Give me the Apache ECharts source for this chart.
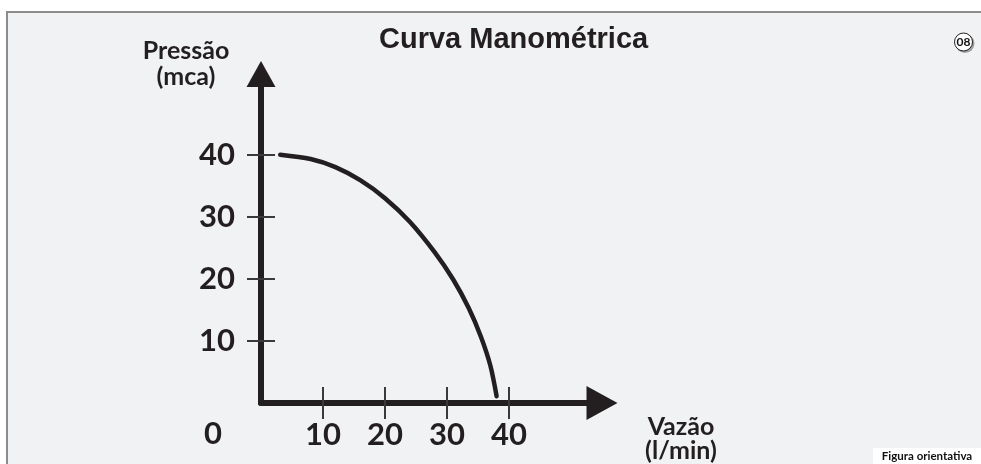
<!DOCTYPE html>
<html lang="pt">
<head>
    <meta charset="UTF-8">
    <title>Curva Manométrica</title>
    <script src="https://cdn.jsdelivr.net/npm/echarts@6/dist/echarts.min.js"></script>
    <style>
        html, body { margin: 0; padding: 0; background: #fff; }
        #curva { width: 981px; height: 464px; }
    </style>
</head>
<body>
<div id="curva"></div>
<script type="text/javascript">
    // valores (vazão em l/min, pressão em mca)
    var vazao = [3.1, 8.0, 12.0, 16.0, 20.0, 24.0, 28.0, 31.0, 33.5, 35.5, 37.0, 38.0];
    var pressao = [40, 39.3, 38.0, 35.9, 33.0, 29.2, 24.3, 19.9, 15.3, 10.6, 6.0, 1.1];
    var vazaoTicks = [10, 20, 30, 40];
    var pressaoTicks = [10, 20, 30, 40];

    var tinta = '#231f20';
    var numFont = {fontFamily: 'Lato', fontWeight: 'bold', fontSize: 31, color: tinta};

    var curvaData = [];
    for (var i = 0; i < vazao.length; i++) {
        curvaData.push([vazao[i], pressao[i]]);
    }

    var chart = echarts.init(document.getElementById('curva'));

    // eixo base + eixo "fantasma" so para o risco do tick cruzar a linha
    function eixoX(principal) {
        return {
            type: 'value', position: 'bottom', min: 0, max: 55,
            axisLine: principal ? {
                onZero: false, symbol: ['none', 'triangle'], symbolSize: [34, 31],
                lineStyle: {color: tinta, width: 6}
            } : {show: false},
            axisTick: {show: true, inside: !principal, length: 16, customValues: vazaoTicks,
                lineStyle: {color: '#3a3a3a', width: 2}},
            axisLabel: principal ? Object.assign({show: true, margin: 16, customValues: vazaoTicks}, numFont) : {show: false},
            splitLine: {show: false}
        };
    }
    function eixoY(principal) {
        return {
            type: 'value', position: 'left', min: 0, max: 53,
            axisLine: principal ? {
                onZero: false, symbol: ['none', 'triangle'], symbolSize: [29, 26],
                lineStyle: {color: tinta, width: 6}
            } : {show: false},
            axisTick: {show: true, inside: !principal, length: 14, customValues: pressaoTicks,
                lineStyle: {color: '#3a3a3a', width: 2}},
            axisLabel: principal ? Object.assign({show: true, margin: 26, customValues: pressaoTicks}, numFont) : {show: false},
            splitLine: {show: false}
        };
    }

    var option = {
        backgroundColor: '#f1f2f4',
        animation: false,
        title: {
            text: 'Curva Manométrica',
            left: 374, top: 20,
            textStyle: {fontFamily: 'Liberation Sans', fontWeight: 'bold', fontSize: 29, color: tinta}
        },
        grid: {left: 261, width: 341, top: 74, height: 329},
        xAxis: [eixoX(true), eixoX(false)],
        yAxis: [eixoY(true), eixoY(false)],
        series: [{
            type: 'line',
            data: curvaData,
            smooth: 0.3,
            showSymbol: false,
            lineStyle: {color: tinta, width: 4.5, cap: 'round'}
        }],
        graphic: [
            // faixa branca e moldura cinza
            {type: 'rect', shape: {x: 0, y: 0, width: 981, height: 11}, style: {fill: '#fff'}},
            {type: 'rect', shape: {x: 0, y: 0, width: 6, height: 464}, style: {fill: '#fff'}},
            {type: 'line', shape: {x1: 6, y1: 12, x2: 981, y2: 12}, style: {stroke: '#8c8c8c', lineWidth: 2}},
            {type: 'line', shape: {x1: 7, y1: 11, x2: 7, y2: 464}, style: {stroke: '#8c8c8c', lineWidth: 2}},
            {type: 'text', x: 186, y: 64, style: {text: 'Pressão\n(mca)', align: 'center', verticalAlign: 'middle',
                font: 'bold 25px Lato', lineHeight: 26, fill: tinta}},
            {type: 'text', x: 681, y: 439, style: {text: 'Vazão\n(l/min)', align: 'center', verticalAlign: 'middle',
                font: 'bold 25px Lato', lineHeight: 24, fill: tinta}},
            {type: 'text', x: 213, y: 434, style: {text: '0', align: 'center', verticalAlign: 'middle',
                font: 'bold 31px Lato', fill: tinta}},
            // selo "08"
            {type: 'circle', shape: {cx: 965, cy: 43.5, r: 9.5}, style: {fill: '#a0a0a0'}},
            {type: 'circle', shape: {cx: 963.5, cy: 42, r: 9}, style: {fill: '#fff', stroke: '#222', lineWidth: 1}},
            {type: 'text', x: 963.5, y: 42.5, style: {text: '08', align: 'center', verticalAlign: 'middle',
                font: 'bold 12px Lato', fill: '#111'}},
            {type: 'rect', shape: {x: 873, y: 448, width: 108, height: 16}, style: {fill: '#fff'}},
            {type: 'text', x: 927, y: 456, style: {text: 'Figura orientativa', align: 'center', verticalAlign: 'middle',
                font: 'bold 11.5px Lato', fill: '#111'}}
        ]
    };
    chart.setOption(option);
</script>
</body>
</html>
